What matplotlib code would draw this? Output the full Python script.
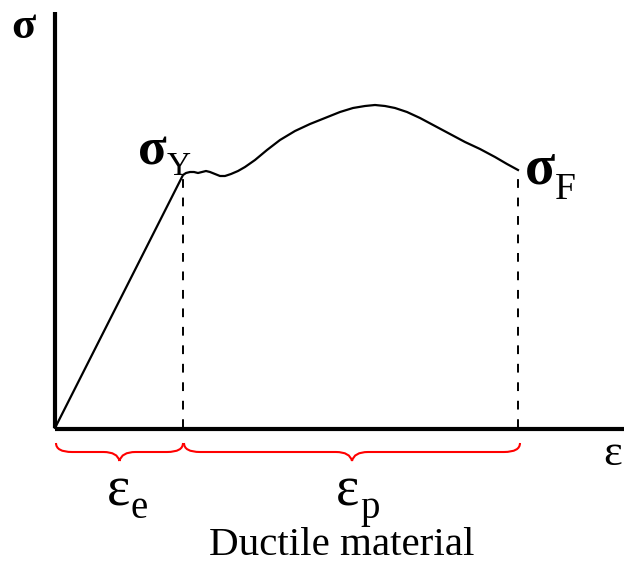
import matplotlib
matplotlib.use('agg')
import matplotlib.pyplot as plt
from matplotlib.path import Path
from matplotlib.patches import PathPatch

# stress-strain curve (arbitrary units, origin at the axes corner)
strain = [0, 128, 131, 135, 139, 143, 147, 151, 155, 160, 165, 170, 176, 183,
          190, 200, 212, 225, 240, 255, 270, 285, 298, 310, 320, 330, 340,
          352, 365, 380, 395, 410, 425, 440, 452, 463]
stress = [0, 253, 255, 256, 256, 255, 256, 257, 256, 254, 252, 252, 254, 257,
          261, 268, 278, 288, 297, 304, 310, 316, 320, 322, 323, 322, 320,
          316, 310, 302, 294, 286, 279, 271, 264, 258]

yield_pt = (128, 253)
fracture_pt = (463, 258)

FONT = 'Liberation Serif'
plt.rcParams['mathtext.fontset'] = 'custom'
plt.rcParams['mathtext.rm'] = FONT
plt.rcParams['mathtext.bf'] = FONT + ':bold'
plt.rcParams['mathtext.it'] = FONT + ':italic'


def brace(ax, x0, x1, y_top, y_flat, y_tip, r=16):
    xm = 0.5 * (x0 + x1)
    verts = [(x0, y_top), (x0, y_flat), (x0 + r, y_flat),
             (xm - r, y_flat),
             (xm - 2, y_flat), (xm, y_tip),
             (xm, y_tip), (xm + 2, y_flat), (xm + r, y_flat),
             (x1 - r, y_flat),
             (x1, y_flat), (x1, y_top)]
    codes = [Path.MOVETO, Path.CURVE3, Path.CURVE3,
             Path.LINETO,
             Path.CURVE3, Path.CURVE3,
             Path.MOVETO, Path.CURVE3, Path.CURVE3,
             Path.LINETO,
             Path.CURVE3, Path.CURVE3]
    ax.add_patch(PathPatch(Path(verts, codes), fill=False, ec='#ff0000', lw=1.5))


fig = plt.figure(figsize=(6.24, 5.64), dpi=100)
ax = fig.add_axes([0, 0, 1, 1])
ax.set_xlim(-55, 569)
ax.set_ylim(-136, 428)
ax.axis('off')

# axes
ax.plot([0, 0], [0, 416], color='black', lw=3, solid_capstyle='butt')
ax.plot([0, 569], [-1, -1], color='black', lw=3, solid_capstyle='butt')

ax.plot(strain, stress, color='black', lw=1.6)

ax.plot([yield_pt[0], yield_pt[0]], [0, yield_pt[1]], color='black', lw=1.4,
        dashes=(4.5, 5))
ax.plot([fracture_pt[0], fracture_pt[0]], [0, fracture_pt[1]], color='black', lw=1.4,
        dashes=(4.5, 5))

brace(ax, 1, yield_pt[0], -15, -24, -33)
brace(ax, yield_pt[0] + 1, fracture_pt[0] + 2, -15, -24, -33)

SIG = '$\\mathbf{\u03c3}$'
ax.text(-44, 424, SIG, fontsize=32, va='top')
ax.text(82, 265, SIG, fontsize=38, va='baseline')
ax.text(112, 253, 'Y', fontsize=24, family=FONT, va='baseline')
ax.text(469, 245, SIG, fontsize=40, va='baseline')
ax.text(500, 229, 'F', fontsize=27, family=FONT, va='baseline')
ax.text(548, -37, '\u03b5', fontsize=32, family=FONT, va='baseline')
ax.text(52, -77, '\u03b5', fontsize=40, family=FONT, va='baseline')
ax.text(75, -90, 'e', fontsize=28, family=FONT, va='baseline')
ax.text(281, -77, '\u03b5', fontsize=40, family=FONT, va='baseline')
ax.text(305, -90, 'p', fontsize=28, family=FONT, va='baseline')
ax.text(287, -127, 'Ductile material', fontsize=29.5, family=FONT, va='baseline',
        ha='center')

fig.savefig('out.png', dpi=100)
